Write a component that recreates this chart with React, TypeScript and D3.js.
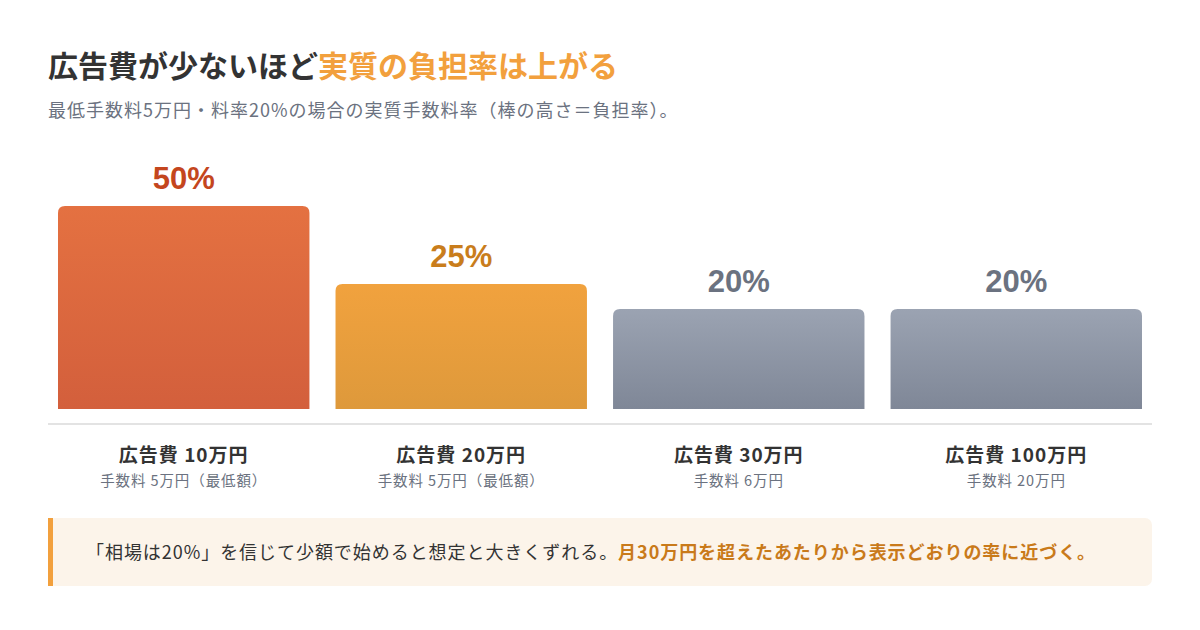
import * as d3 from 'd3'

// Data
const spendLabels = ['広告費 10万円', '広告費 20万円', '広告費 30万円', '広告費 100万円']
const feeLabels = ['手数料 5万円（最低額）', '手数料 5万円（最低額）', '手数料 6万円', '手数料 20万円']
const burdenRates = [50, 25, 20, 20]
const tiers = ['high', 'mid', 'base', 'base']

const W = 1200
const H = 630
const CJK = '"Noto Sans CJK JP", "Noto Sans", sans-serif'
const LATIN = '"Liberation Sans", Arial, "Noto Sans CJK JP", sans-serif'

const tierStyle: Record<string, { top: string; bottom: string; label: string }> = {
  high: { top: '#e47141', bottom: '#d35f3c', label: '#c4461e' },
  mid: { top: '#f1a23e', bottom: '#de993b', label: '#c97d1c' },
  base: { top: '#9ba3b2', bottom: '#7f8797', label: '#6b7280' },
}

const baseline = 409
const x = d3
  .scaleBand<number>()
  .domain(d3.range(burdenRates.length))
  .range([58, 1142])
  .paddingInner(0.094)
  .paddingOuter(0)

// the 50% bar is capped so the others stay readable
const y = d3.scaleLinear().domain([0, 40.6]).range([baseline, 206]).clamp(true)

function topRounded(x0: number, y0: number, w: number, h: number, r: number) {
  const p = d3.path()
  p.moveTo(x0, y0 + h)
  p.lineTo(x0, y0 + r)
  p.quadraticCurveTo(x0, y0, x0 + r, y0)
  p.lineTo(x0 + w - r, y0)
  p.quadraticCurveTo(x0 + w, y0, x0 + w, y0 + r)
  p.lineTo(x0 + w, y0 + h)
  p.closePath()
  return p.toString()
}

export default function App() {
  return (
    <svg
      width={W}
      height={H}
      viewBox={`0 0 ${W} ${H}`}
      style={{ position: 'absolute', left: 0, top: 0, display: 'block', background: '#fff' }}
    >
      <defs>
        {Object.entries(tierStyle).map(([k, s]) => (
          <linearGradient key={k} id={`g-${k}`} x1="0" y1="0" x2="0" y2="1">
            <stop offset="0%" stopColor={s.top} />
            <stop offset="100%" stopColor={s.bottom} />
          </linearGradient>
        ))}
      </defs>

      {/* Title */}
      <text x={48} y={77} fontFamily={CJK} fontSize={30} fontWeight={700} fill="#333333">
        広告費が少ないほど<tspan fill="#f2a03d">実質の負担率は上がる</tspan>
      </text>
      <text x={48} y={117} fontFamily={CJK} fontSize={18} letterSpacing={1} fill="#6b7280">
        最低手数料5万円・料率20%の場合の実質手数料率（棒の高さ＝負担率）。
      </text>

      {/* Bars */}
      {burdenRates.map((v, i) => {
        const bx = x(i)!
        const by = y(v)
        const cx = bx + x.bandwidth() / 2
        const s = tierStyle[tiers[i]]
        return (
          <g key={i}>
            <path d={topRounded(bx, by, x.bandwidth(), baseline - by, 7)} fill={`url(#g-${tiers[i]})`} />
            <text x={cx} y={by - 17} textAnchor="middle" fontFamily={LATIN} fontSize={31} fontWeight={700} fill={s.label}>
              {`${v}%`}
            </text>
            <text x={cx} y={462} textAnchor="middle" fontFamily={CJK} fontSize={19} fontWeight={700} letterSpacing={1} fill="#333333">
              {spendLabels[i]}
            </text>
            <text x={cx} y={486} textAnchor="middle" fontFamily={CJK} fontSize={14.5} letterSpacing={0.9} fill="#6b7280">
              {feeLabels[i]}
            </text>
          </g>
        )
      })}

      {/* Axis line */}
      <line x1={48} x2={1152} y1={424} y2={424} stroke="#e3e3e3" strokeWidth={2} />

      {/* Callout */}
      <rect x={48} y={518} width={1104} height={68} rx={7} fill="#fcf4ea" />
      <rect x={48} y={518} width={5} height={68} fill="#f2a03d" />
      <text x={86} y={559} fontFamily={CJK} fontSize={18} letterSpacing={0.95} fill="#333333">
        「相場は20%」を信じて少額で始めると想定と大きくずれる。
        <tspan fill="#c97a1a" fontWeight={700}>月30万円を超えたあたりから表示どおりの率に近づく。</tspan>
      </text>
    </svg>
  )
}
